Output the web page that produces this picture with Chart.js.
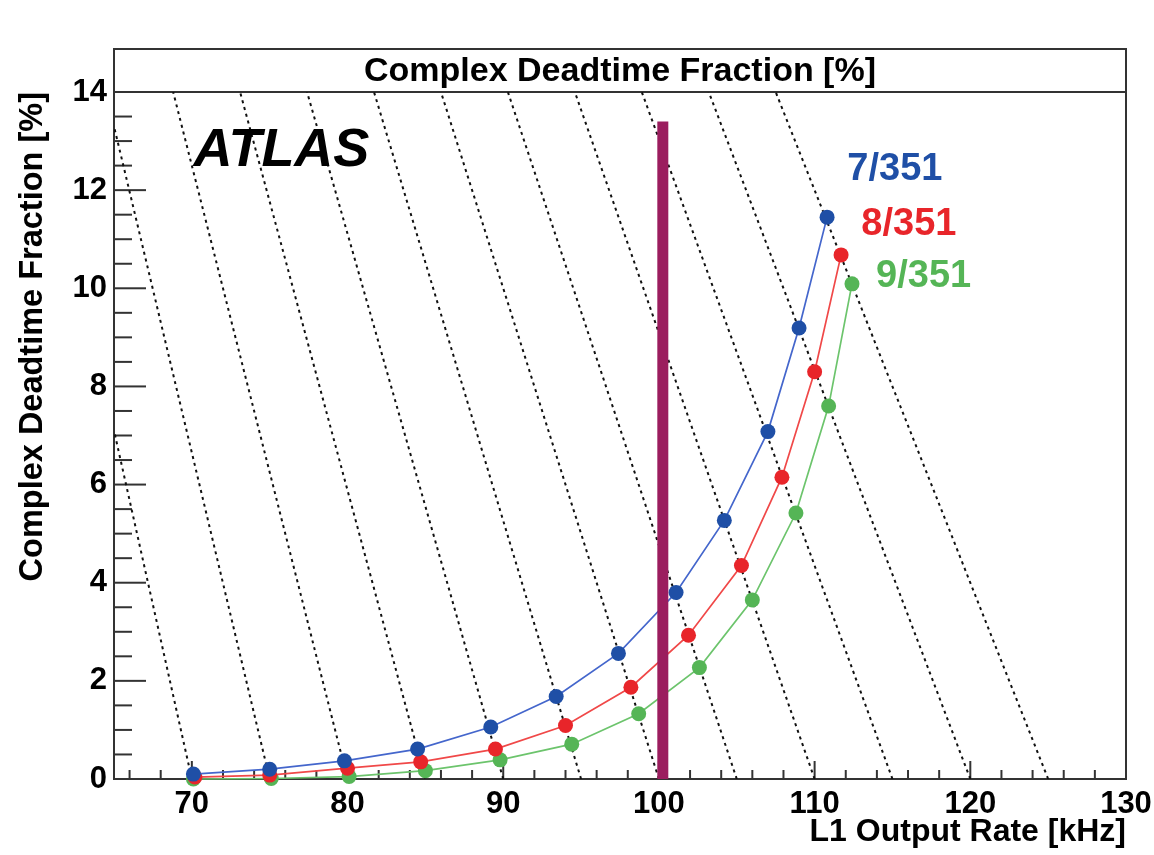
<!DOCTYPE html>
<html>
<head>
<meta charset="utf-8">
<script src="https://cdn.jsdelivr.net/npm/chart.js@4.4.1/dist/chart.umd.min.js"></script>
<style>
  html, body { margin: 0; padding: 0; background: #fff; }
  #wrap { width: 1154px; height: 855px; }
</style>
</head>
<body>
<div id="wrap"><canvas id="deadtimeChart" width="1154" height="855"></canvas></div>
<script>
// L1 output rate [kHz] vs complex deadtime fraction [%], one pair per configuration
const rate7 = [70.1, 75.0, 79.8, 84.5, 89.2, 93.4, 97.4, 101.1, 104.2, 107.0, 109.0, 110.8];
const dead7 = [0.10, 0.20, 0.37, 0.61, 1.06, 1.68, 2.56, 3.80, 5.27, 7.08, 9.19, 11.45];
const rate8 = [70.2, 75.0, 80.0, 84.7, 89.5, 94.0, 98.2, 101.9, 105.3, 107.9, 110.0, 111.7];
const dead8 = [0.04, 0.08, 0.22, 0.35, 0.61, 1.09, 1.87, 2.93, 4.35, 6.15, 8.30, 10.68];
const rate9 = [70.1, 75.1, 80.1, 85.0, 89.8, 94.4, 98.7, 102.6, 106.0, 108.8, 110.9, 112.4];
const dead9 = [0.00, 0.01, 0.05, 0.17, 0.39, 0.71, 1.33, 2.27, 3.65, 5.42, 7.60, 10.09];
const seriesNames = ['7/351', '8/351', '9/351'];

// dashed lines of constant input rate: they start on the axis at the input rate,
// the far end is where they leave the frame
const inputRates = [70, 75, 80, 85, 90, 95, 100, 105, 110, 115, 120, 125];
const isoEndRate = [65, 65, 68.8, 73.1, 77.4, 81.7, 86.0, 90.3, 94.6, 98.9, 103.2, 107.5];
const isoEndDead = [7.1, 13.3, 14, 14, 14, 14, 14, 14, 14, 14, 14, 14];

// 100 kHz marker
const markerRate = 100.25;
const markerTop = 13.4;

const xTickLabels = [70, 80, 90, 100, 110, 120, 130];
const yTickLabels = [0, 2, 4, 6, 8, 10, 12, 14];

const FONT = '"Liberation Sans", Arial, Helvetica, sans-serif';

const seriesStyle = [
  { line: '#4466cc', mark: '#1f4fa6' },
  { line: '#f04848', mark: '#e8252a' },
  { line: '#6cc46c', mark: '#55b556' },
];

const isoSets = inputRates.map((r, i) => ({
  data: [{ x: r, y: 0 }, { x: isoEndRate[i], y: isoEndDead[i] }],
  showLine: true,
  borderColor: '#111',
  borderWidth: 2,
  borderDash: [3, 4],
  pointRadius: 0,
  order: 3,
}));

const seriesSets = [[rate7, dead7], [rate8, dead8], [rate9, dead9]].map(([xs, ys], i) => ({
  label: seriesNames[i],
  data: xs.map((x, k) => ({ x, y: ys[k] })),
  showLine: true,
  tension: 0,
  borderColor: seriesStyle[i].line,
  borderWidth: 1.7,
  pointRadius: 7.5,
  pointBorderWidth: 0,
  pointBackgroundColor: seriesStyle[i].mark,
  clip: false,
  order: 2,
}));

const markerSet = {
  data: [{ x: markerRate, y: 0 }, { x: markerRate, y: markerTop }],
  showLine: true,
  borderColor: '#9b1d5e',
  borderWidth: 11,
  borderCapStyle: 'butt',
  pointRadius: 0,
  order: 1,
};

// ROOT style frame, inward ticks, title box and in-plot labels
const rootFrame = {
  id: 'rootFrame',
  beforeDatasetsDraw(chart) {
    const { ctx, chartArea: a, scales: { x, y } } = chart;
    ctx.save();
    ctx.strokeStyle = '#333';
    ctx.lineWidth = 2;

    // x ticks: major every 10, minor every 2
    for (let v = 66; v <= 130; v += 2) {
      const len = v % 10 === 0 ? 18 : 9;
      const px = x.getPixelForValue(v);
      ctx.beginPath();
      ctx.moveTo(px, a.bottom);
      ctx.lineTo(px, a.bottom - len);
      ctx.stroke();
    }
    // y ticks: major every 2, minor every 0.5
    for (let v = 0.5; v < 14; v += 0.5) {
      const len = v % 2 === 0 ? 32 : 18;
      const py = y.getPixelForValue(v);
      ctx.beginPath();
      ctx.moveTo(a.left, py);
      ctx.lineTo(a.left + len, py);
      ctx.stroke();
    }

    ctx.strokeRect(a.left, a.top, a.right - a.left, a.bottom - a.top);
    // title box above the frame
    ctx.strokeRect(a.left, 49, a.right - a.left, a.top - 49);
    ctx.restore();
  },
  afterDraw(chart) {
    const { ctx, chartArea: a, scales: { x, y } } = chart;
    ctx.save();
    ctx.textBaseline = 'middle';
    ctx.textAlign = 'center';
    ctx.fillStyle = '#000';
    ctx.font = 'bold 34px ' + FONT;
    ctx.fillText('Complex Deadtime Fraction [%]', (a.left + a.right) / 2, (49 + a.top) / 2 + 1);

    ctx.textAlign = 'left';
    ctx.font = 'italic bold 54px ' + FONT;
    ctx.fillText('ATLAS', x.getPixelForValue(70.1), y.getPixelForValue(12.8));

    const labelAt = [[112.1, 12.42], [113.0, 11.29], [113.95, 10.23]];
    ctx.font = 'bold 38px ' + FONT;
    seriesNames.forEach((name, i) => {
      ctx.fillStyle = seriesStyle[i].mark;
      ctx.fillText(name, x.getPixelForValue(labelAt[i][0]), y.getPixelForValue(labelAt[i][1]));
    });
    ctx.restore();
  },
};

new Chart('deadtimeChart', {
  type: 'scatter',
  data: { datasets: [markerSet, ...seriesSets, ...isoSets] },
  options: {
    responsive: false,
    animation: false,
    layout: { padding: { left: 0, right: 28, top: 92, bottom: 0 } },
    plugins: { legend: { display: false }, tooltip: { enabled: false } },
    scales: {
      x: {
        type: 'linear',
        min: 65,
        max: 130,
        afterBuildTicks: (s) => { s.ticks = xTickLabels.map((v) => ({ value: v })); },
        afterFit: (s) => { s.height = 76; s.paddingLeft = 0; s.paddingRight = 0; },
        grid: { display: false, drawTicks: false },
        border: { display: false },
        ticks: {
          color: '#000', padding: 7, maxRotation: 0, autoSkip: false,
          font: { family: FONT, size: 31, weight: 'bold' },
        },
        title: {
          display: true, text: 'L1 Output Rate [kHz]', align: 'end', color: '#000',
          font: { family: FONT, size: 32, weight: 'bold', lineHeight: 1 },
          padding: { top: 0, bottom: 7 },
        },
      },
      y: {
        type: 'linear',
        min: 0,
        max: 14,
        afterBuildTicks: (s) => { s.ticks = yTickLabels.map((v) => ({ value: v })); },
        afterFit: (s) => { s.width = 114; s.paddingTop = 0; s.paddingBottom = 0; },
        grid: { display: false, drawTicks: false },
        border: { display: false },
        ticks: {
          color: '#000', padding: 7, autoSkip: false,
          font: { family: FONT, size: 31, weight: 'bold' },
        },
        title: {
          display: true, text: 'Complex Deadtime Fraction [%]', align: 'end', color: '#000',
          font: { family: FONT, size: 32.5, weight: 'bold', lineHeight: 1 },
          padding: { top: 17, bottom: 0 },
        },
      },
    },
  },
  plugins: [rootFrame],
});
</script>
</body>
</html>
